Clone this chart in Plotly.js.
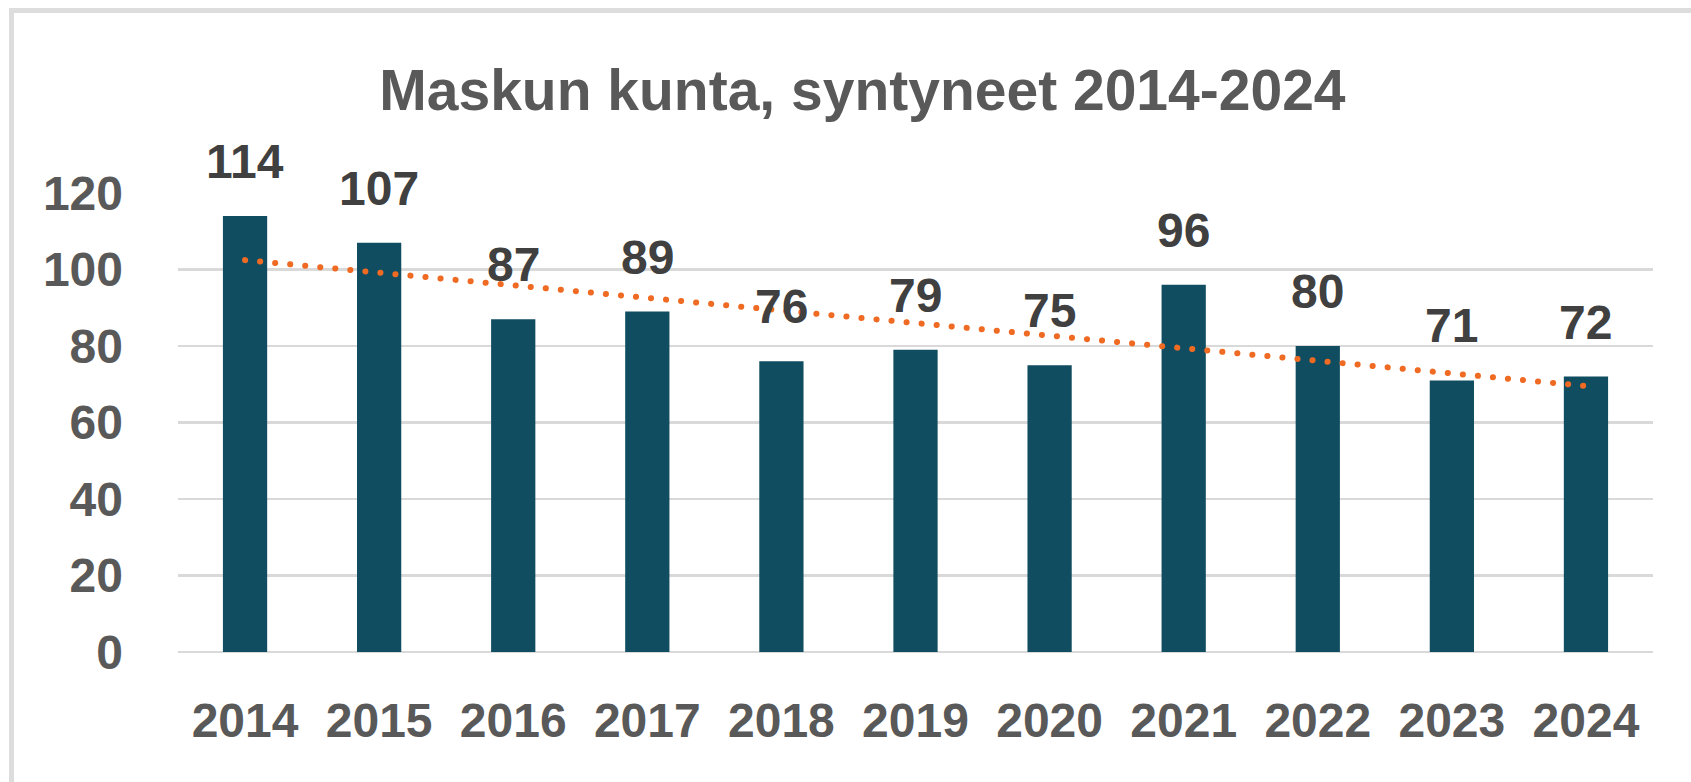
<!DOCTYPE html>
<html>
<head>
<meta charset="utf-8">
<script src="https://cdn.plot.ly/plotly-3.0.1.min.js"></script>
<style>
  html, body { margin: 0; padding: 0; background: #ffffff; overflow: hidden; }
  #chart { width: 1691px; height: 782px; }
  #frame { position: absolute; left: 9px; top: 8px; width: 1700px; height: 800px;
           border-top: 5px solid #dddddd; border-left: 5px solid #dddddd;
           pointer-events: none; box-sizing: border-box; }
  .trend .js-line { stroke-linecap: round; }
</style>
</head>
<body>
<div id="chart"></div>
<div id="frame"></div>
<script>
const years = ['2014','2015','2016','2017','2018','2019','2020','2021','2022','2023','2024'];
const births = [114, 107, 87, 89, 76, 79, 75, 96, 80, 71, 72];
const yTicks = [0, 20, 40, 60, 80, 100, 120];
const chartTitle = 'Maskun kunta, syntyneet 2014-2024';

// Linear trendline (least squares) computed from the data
const n = births.length;
const xs = births.map((_, i) => i);
const mx = xs.reduce((a, b) => a + b, 0) / n;
const my = births.reduce((a, b) => a + b, 0) / n;
let sxy = 0, sxx = 0;
for (let i = 0; i < n; i++) { sxy += (xs[i] - mx) * (births[i] - my); sxx += (xs[i] - mx) ** 2; }
const slope = sxy / sxx;
const trend = xs.map(x => my + slope * (x - mx));

const font = 'Liberation Sans, Arial, sans-serif';
const grey = '#595959';

const bars = {
  type: 'bar', x: years, y: births,
  marker: { color: '#114d60', line: { color: '#114d60', width: 0 } },
  hoverinfo: 'skip', showlegend: false
};
const trendTrace = {
  type: 'scatter', mode: 'lines', x: years, y: trend,
  line: { color: '#ef6a22', width: 6, dash: '0.1px,15px' },
  hoverinfo: 'skip', showlegend: false
};

const annotations = years.map((yr, i) => ({
  x: i, y: births[i], xref: 'x', yref: 'y',
  text: String(births[i]), showarrow: false,
  yanchor: 'bottom', yshift: 26,
  font: { family: font, size: 48, color: '#404040', weight: 'bold' }
}));

const layout = {
  width: 1691, height: 782,
  margin: { l: 178, r: 38, t: 193, b: 130 },
  paper_bgcolor: '#ffffff', plot_bgcolor: '#ffffff',
  bargap: 0.67,
  title: {
    text: chartTitle, x: 0.51, xanchor: 'center', y: 0.885, yanchor: 'middle',
    font: { family: font, size: 57, color: grey, weight: 'bold' }
  },
  xaxis: {
    type: 'category', range: [-0.5, years.length - 0.5], autorange: false,
    showgrid: false, zeroline: false, showline: false,
    ticks: '', ticklabelstandoff: 36,
    tickfont: { family: font, size: 48, color: grey, weight: 'bold' }
  },
  yaxis: {
    range: [0, 120], autorange: false, tickvals: yTicks, showgrid: true, gridcolor: '#d9d9d9', gridwidth: 2.5,
    zeroline: true, zerolinecolor: '#d9d9d9', zerolinewidth: 2.5,
    showline: false, ticks: '', ticklabelstandoff: 54,
    tickfont: { family: font, size: 48, color: grey, weight: 'bold' }
  },
  annotations: annotations
};

Plotly.newPlot('chart', [bars, trendTrace], layout, { staticPlot: true, displayModeBar: false }).then(() => {
  const traces = document.querySelectorAll('.scatterlayer .trace');
  traces.forEach(t => t.classList.add('trend'));
});
</script>
</body>
</html>
